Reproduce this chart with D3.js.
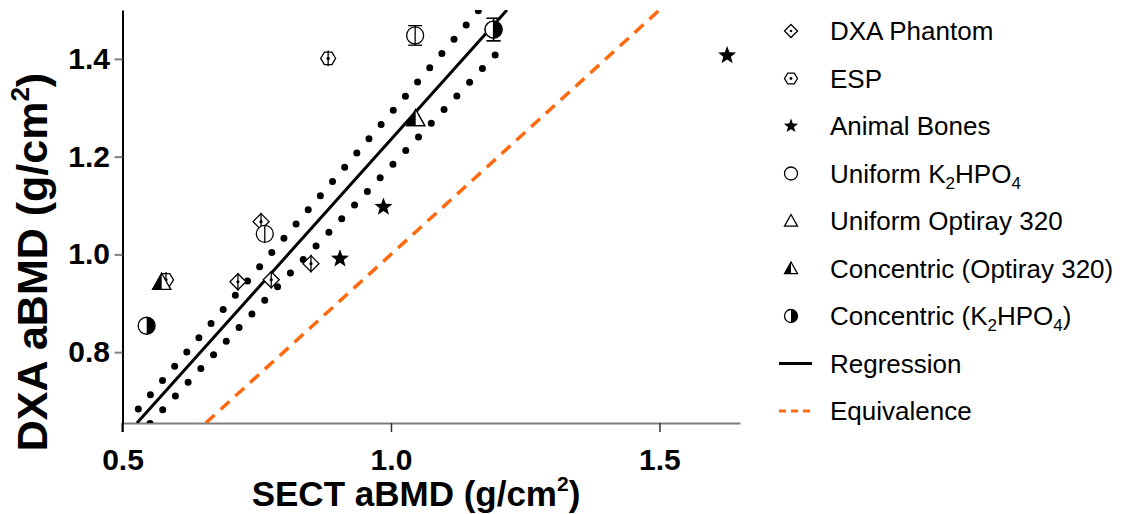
<!DOCTYPE html>
<html><head><meta charset="utf-8">
<script src="https://cdn.jsdelivr.net/npm/d3@7"></script>
<style>body{margin:0;background:#fff}svg{display:block}</style>
</head><body>
<svg id="c" width="1126" height="514"></svg>
<script>
// ---- data ----
const dxaX = [0.758, 0.715, 0.777, 0.851];
const dxaY = [1.067, 0.944, 0.948, 0.981];
const dxaErr = [0.018, 0.018, 0.018, 0.018];
const espX = [0.883, 0.581];
const espY = [1.401, 0.948];
const espErr = [0.016, 0.016];
const animalX = [0.905, 0.986, 1.626];
const animalY = [0.991, 1.097, 1.407];
const uniKX = [0.765, 1.045, 1.191];
const uniKY = [1.042, 1.448, 1.46];
const uniKErr = [0.017, 0.02, 0.023];
const uniOX = [0.573, 1.046];
const uniOY = [0.943, 1.278];
const conOX = [0.573, 1.046];
const conOY = [0.943, 1.278];
const conKX = [0.545, 1.191];
const conKY = [0.854, 1.46];
const conKErr = [0, 0.023];
const regX = [0.527, 1.216];
const regY = [0.655, 1.5];
const upperBand = [[0.5294,0.6836],[0.6431,0.8303],[0.8928,1.1514],[1.1437,1.4738],[1.164,1.5]];
const lowerBand = [[0.5512,0.6541],[0.6942,0.8236],[0.958,1.1309],[1.1984,1.4131]];
const equivX = [0.655, 1.5];
const xTicks = [0.5, 1.0, 1.5];
const yTicks = [0.8, 1.0, 1.2, 1.4];
const legendLabels = ["DXA Phantom","ESP","Animal Bones","Uniform K2HPO4","Uniform Optiray 320","Concentric (Optiray 320)","Concentric (K2HPO4)","Regression","Equivalence"];

// ---- layout ----
const svg = d3.select("#c");
const L = 122.5, R = 740, T = 10, B = 423;
const x = d3.scaleLinear().domain([0.5, 1.65]).range([L, R]);
const y = d3.scaleLinear().domain([0.655, 1.5]).range([B, T]);
const FONT = "'Liberation Sans', Arial, sans-serif";
const ORANGE = "#ff6a10";

svg.append("defs").append("clipPath").attr("id","clip")
  .append("rect").attr("x",L).attr("y",T).attr("width",R-L).attr("height",B-T);

// axes
const gx = svg.append("g").attr("transform",`translate(0,${B})`)
  .call(d3.axisBottom(x).tickValues(xTicks).tickFormat(d3.format(".1f")).tickSize(9).tickSizeOuter(0));
gx.select(".domain").attr("stroke","#808080").attr("stroke-width",2);
gx.selectAll(".tick line").attr("stroke","#333").attr("stroke-width",1.5);
gx.selectAll(".tick text").attr("font-family",FONT).attr("font-weight","bold").attr("font-size",30).attr("fill","#000").attr("dy","1.15em");

const gy = svg.append("g").attr("transform",`translate(${L},0)`)
  .call(d3.axisLeft(y).tickValues(yTicks).tickFormat(d3.format(".1f")).tickSize(8).tickSizeOuter(0));
gy.select(".domain").attr("stroke","#000").attr("stroke-width",2);
gy.selectAll(".tick line").attr("stroke","#808080").attr("stroke-width",2);
gy.selectAll(".tick text").attr("font-family",FONT).attr("font-weight","bold").attr("font-size",30).attr("fill","#000").attr("dx","-0.05em");
svg.append("line").attr("x1",L).attr("x2",L).attr("y1",B).attr("y2",B+9).attr("stroke","#000").attr("stroke-width",2);

// axis titles
const xt = svg.append("text").attr("x",416).attr("y",506).attr("text-anchor","middle")
  .attr("font-family",FONT).attr("font-weight","bold").attr("font-size",35);
xt.append("tspan").text("SECT aBMD (g/cm");
xt.append("tspan").attr("font-size",21).attr("dy",-15).text("2");
xt.append("tspan").attr("dy",15).text(")");
const yt = svg.append("text").attr("transform","translate(47,262) rotate(-90)").attr("text-anchor","middle")
  .attr("font-family",FONT).attr("font-weight","bold").attr("font-size",43);
yt.append("tspan").text("DXA aBMD (g/cm");
yt.append("tspan").attr("font-size",26).attr("dy",-18).text("2");
yt.append("tspan").attr("dy",18).text(")");

// lines
const plot = svg.append("g").attr("clip-path","url(#clip)");
const line = d3.line().x(d=>x(d[0])).y(d=>y(d[1]));
plot.append("path").attr("d",line(equivX.map(v=>[v,v]))).attr("fill","none")
  .attr("stroke",ORANGE).attr("stroke-width",3.5).attr("stroke-dasharray","12 8");
[upperBand, lowerBand].forEach(b=>{
  plot.append("path").attr("d",line(b)).attr("fill","none").attr("stroke","#000")
    .attr("stroke-width",7).attr("stroke-linecap","round").attr("stroke-dasharray","0 18.7");
});
plot.append("path").attr("d",line(regX.map((v,i)=>[v,regY[i]]))).attr("fill","none")
  .attr("stroke","#000").attr("stroke-width",3);

// marker shapes
function starPath(ro, ri){
  let p=[];for(let i=0;i<10;i++){const r=i%2?ri:ro;const a=-Math.PI/2+i*Math.PI/5;p.push([r*Math.cos(a),r*Math.sin(a)]);}
  return "M"+p.map(q=>q.join(",")).join("L")+"Z";
}
function drawMarker(g, type, s){
  const sw = 1.3;
  if(type==="diamond"){
    g.append("path").attr("d",`M0,${-s}L${s},0L0,${s}L${-s},0Z`).attr("fill","#fff").attr("stroke","#000").attr("stroke-width",sw);
    g.append("circle").attr("r",s*0.2).attr("fill","#000");
  } else if(type==="hex"){
    const pts=d3.range(6).map(i=>{const a=i*Math.PI/3;return [s*Math.cos(a), s*0.95*Math.sin(a)];});
    g.append("path").attr("d","M"+pts.map(q=>q.join(",")).join("L")+"Z").attr("fill","#fff").attr("stroke","#000").attr("stroke-width",sw);
    g.append("circle").attr("r",s*0.22).attr("fill","#000");
  } else if(type==="star"){
    g.append("path").attr("d",starPath(s, s*0.42)).attr("fill","#000");
  } else if(type==="circle"){
    g.append("circle").attr("r",s).attr("fill","#fff").attr("stroke","#000").attr("stroke-width",sw);
  } else if(type==="tri"){
    g.append("path").attr("d",`M0,${-s}L${s},${s*0.8}L${-s},${s*0.8}Z`).attr("fill","#fff").attr("stroke","#000").attr("stroke-width",sw);
  } else if(type==="halftri"){
    g.append("path").attr("d",`M0,${-s}L${s},${s*0.8}L${-s},${s*0.8}Z`).attr("fill","#fff").attr("stroke","#000").attr("stroke-width",sw);
    g.append("path").attr("d",`M0,${-s}L0,${s*0.8}L${-s},${s*0.8}Z`).attr("fill","#000");
  } else if(type==="halfcircle"){
    g.append("circle").attr("r",s).attr("fill","#fff").attr("stroke","#000").attr("stroke-width",sw);
    g.append("path").attr("d",`M0,${-s}A${s},${s} 0 0 1 0,${s}Z`).attr("fill","#000");
  }
}

const series = [
  {xs:uniOX, ys:uniOY, type:"tri", s:9},
  {xs:dxaX, ys:dxaY, err:dxaErr, type:"diamond", s:8},
  {xs:espX, ys:espY, err:espErr, type:"hex", s:7.5},
  {xs:animalX, ys:animalY, type:"star", s:9.5},
  {xs:uniKX, ys:uniKY, err:uniKErr, caps:true, type:"circle", s:8.5},
  {xs:conOX, ys:conOY, type:"halftri", s:9},
  {xs:conKX, ys:conKY, err:conKErr, caps:true, type:"halfcircle", s:8.5}
];
const pts = svg.append("g");
series.forEach(sr=>{
  sr.xs.forEach((xv,i)=>{
    const g = pts.append("g").attr("transform",`translate(${x(xv)},${y(sr.ys[i])})`);
    drawMarker(g, sr.type, sr.s);
    if(sr.err && sr.err[i]>0){
      const e = y(sr.ys[i]-sr.err[i]) - y(sr.ys[i]);
      g.append("line").attr("y1",-e).attr("y2",e).attr("stroke","#000").attr("stroke-width",1.3);
      if(sr.caps && e > sr.s){
        g.append("line").attr("x1",-7).attr("x2",7).attr("y1",-e).attr("y2",-e).attr("stroke","#000").attr("stroke-width",1.3);
        g.append("line").attr("x1",-7).attr("x2",7).attr("y1",e).attr("y2",e).attr("stroke","#000").attr("stroke-width",1.3);
      }
    }
  });
});

// legend
const legTypes = ["diamond","hex","star","circle","tri","halftri","halfcircle","reg","equiv"];
const legY0 = 31, legDy = 47.5;
const leg = svg.append("g");
legendLabels.forEach((lab,i)=>{
  const cy = legY0 + i*legDy;
  const g = leg.append("g").attr("transform",`translate(791,${cy})`);
  const t = legTypes[i];
  if(t==="reg"){
    g.append("line").attr("x1",-12).attr("x2",21).attr("stroke","#000").attr("stroke-width",3);
  } else if(t==="equiv"){
    g.append("line").attr("x1",-12).attr("x2",21).attr("stroke",ORANGE).attr("stroke-width",3).attr("stroke-dasharray","7 5");
  } else {
    drawMarker(g, t, t==="star"?7.5:6.5);
  }
  const tx = leg.append("text").attr("x",830).attr("y",cy+9).attr("font-family",FONT).attr("font-size",26).attr("fill","#000");
  const m = lab.match(/^(.*)K2HPO4(.*)$/);
  if(m){
    tx.append("tspan").text(m[1]+"K");
    tx.append("tspan").attr("font-size",17).attr("dy",6).text("2");
    tx.append("tspan").attr("dy",-6).text("HPO");
    tx.append("tspan").attr("font-size",17).attr("dy",6).text("4");
    if(m[2]) tx.append("tspan").attr("dy",-6).text(m[2]);
  } else tx.text(lab);
});
</script>
</body></html>
